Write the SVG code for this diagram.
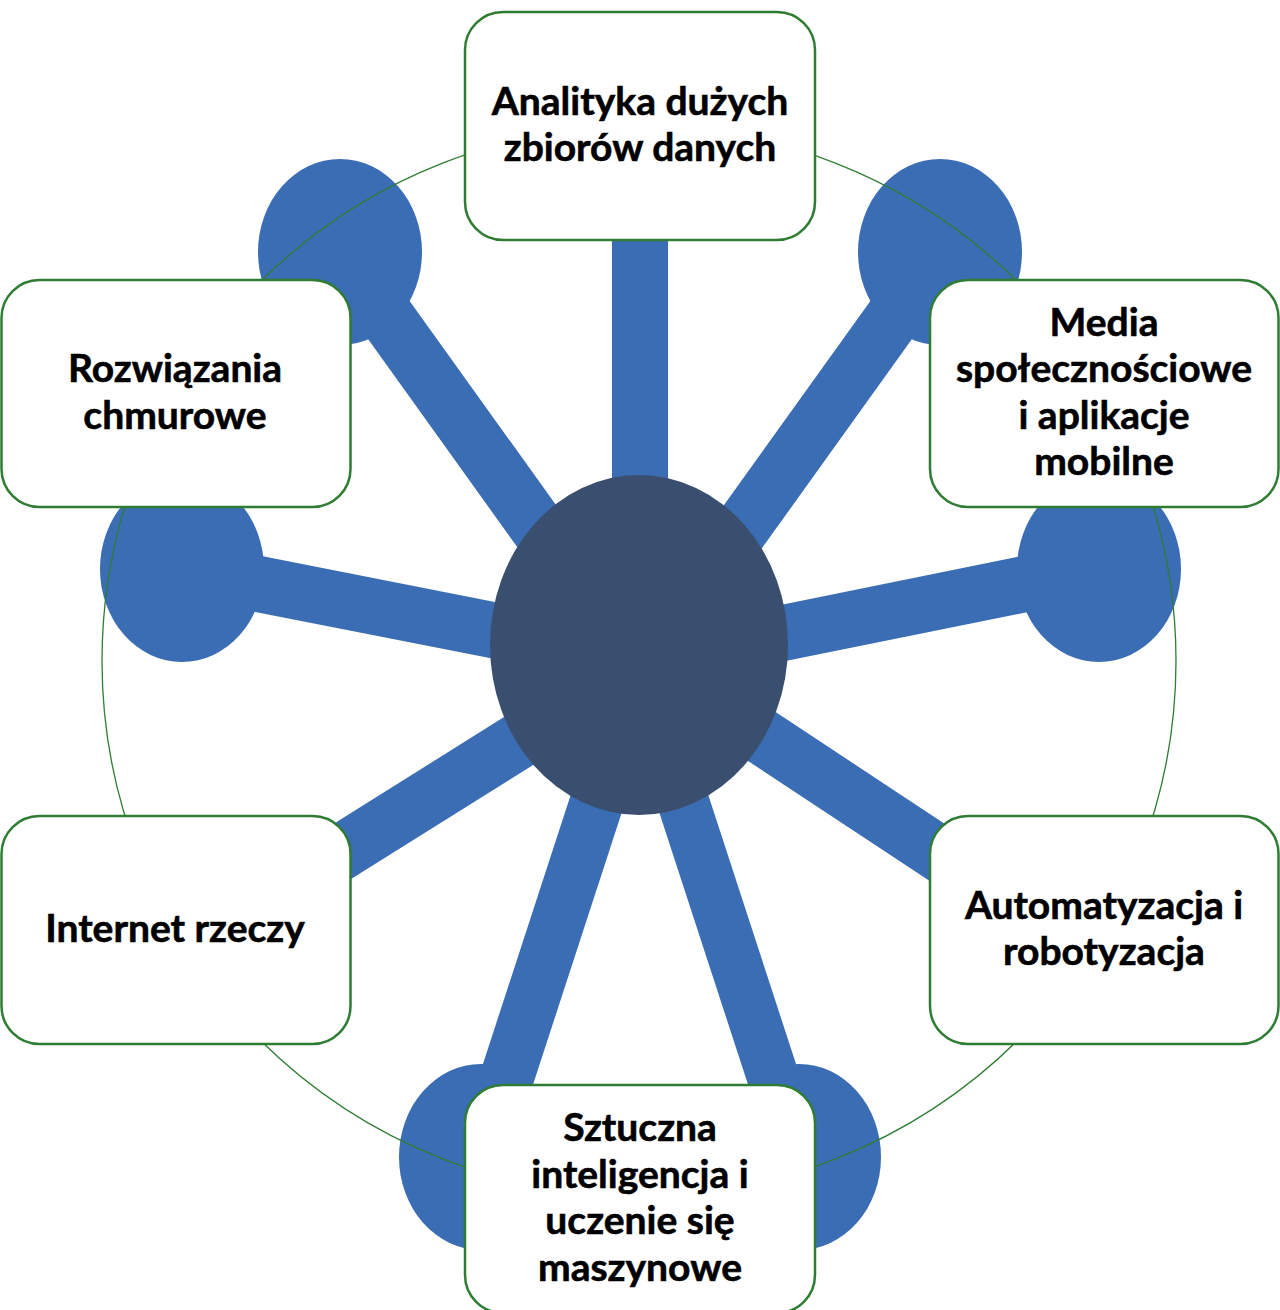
<svg xmlns="http://www.w3.org/2000/svg" width="1280" height="1310" viewBox="0 0 1280 1310">
<style>
.spoke{stroke:#3a6db4;stroke-width:56;fill:none;stroke-linecap:butt}
.hub{fill:#3a6db4}
.ring{fill:none;stroke:#2e7d32;stroke-width:1.3}
.box{fill:#ffffff;stroke:#2e7d32;stroke-width:2.5}
.lbl{font-family:Lato,"Open Sans","Liberation Sans",sans-serif;font-weight:700;font-size:39px;fill:#000;stroke:#000;stroke-width:0.6;text-anchor:middle}
</style>
<rect width="1280" height="1310" fill="#ffffff"/>
<g id="connectors">
<line class="spoke" x1="640" y1="645" x2="640" y2="130"/>
<line class="spoke" x1="622" y1="645" x2="340" y2="252"/>
<line class="spoke" x1="658" y1="645" x2="940" y2="252"/>
<line class="spoke" x1="640" y1="659" x2="182" y2="569"/>
<line class="spoke" x1="640" y1="662" x2="1099" y2="569"/>
<line class="spoke" x1="640" y1="665" x2="180" y2="953"/>
<line class="spoke" x1="640" y1="656" x2="1100" y2="960"/>
<line class="spoke" x1="648" y1="645" x2="481" y2="1157" style="stroke-width:54"/>
<line class="spoke" x1="632" y1="645" x2="799" y2="1157" style="stroke-width:52"/>
<ellipse class="hub" cx="340" cy="252" rx="82" ry="93"/>
<ellipse class="hub" cx="940" cy="252" rx="82" ry="93"/>
<ellipse class="hub" cx="182" cy="569" rx="82" ry="93"/>
<ellipse class="hub" cx="1099" cy="569" rx="82" ry="93"/>
<ellipse class="hub" cx="481" cy="1157" rx="82" ry="93"/>
<ellipse class="hub" cx="799" cy="1157" rx="82" ry="93"/>
<ellipse class="ring" cx="639" cy="661" rx="537" ry="535"/>
</g>
<g id="center">
<ellipse cx="639" cy="645" rx="149" ry="170" fill="#3a4e6f"/>
</g>
<g id="n-analityka">
<rect class="box" x="465" y="12" width="350" height="228" rx="38"/>
<text class="lbl" x="640" y="115">Analityka dużych</text>
<text class="lbl" x="640" y="161">zbiorów danych</text>
</g>
<g id="n-rozwiazania">
<rect class="box" x="1.5" y="280" width="349" height="227" rx="38"/>
<text class="lbl" x="175" y="382">Rozwiązania</text>
<text class="lbl" x="175" y="428.5">chmurowe</text>
</g>
<g id="n-media">
<rect class="box" x="930" y="280" width="348.5" height="227" rx="38"/>
<text class="lbl" x="1104" y="336">Media</text>
<text class="lbl" x="1104" y="382">społecznościowe</text>
<text class="lbl" x="1104" y="428.5">i aplikacje</text>
<text class="lbl" x="1104" y="474.5">mobilne</text>
</g>
<g id="n-internet">
<rect class="box" x="1.5" y="816" width="349" height="228" rx="38"/>
<text class="lbl" x="175" y="942">Internet rzeczy</text>
</g>
<g id="n-automatyzacja">
<rect class="box" x="930" y="816" width="348.5" height="228" rx="38"/>
<text class="lbl" x="1104" y="919">Automatyzacja i</text>
<text class="lbl" x="1104" y="965">robotyzacja</text>
</g>
<g id="n-sztuczna">
<rect class="box" x="465" y="1085" width="350" height="228" rx="38"/>
<text class="lbl" x="640" y="1141">Sztuczna</text>
<text class="lbl" x="640" y="1187.5">inteligencja i</text>
<text class="lbl" x="640" y="1234">uczenie się</text>
<text class="lbl" x="640" y="1280.5">maszynowe</text>
</g>
</svg>
